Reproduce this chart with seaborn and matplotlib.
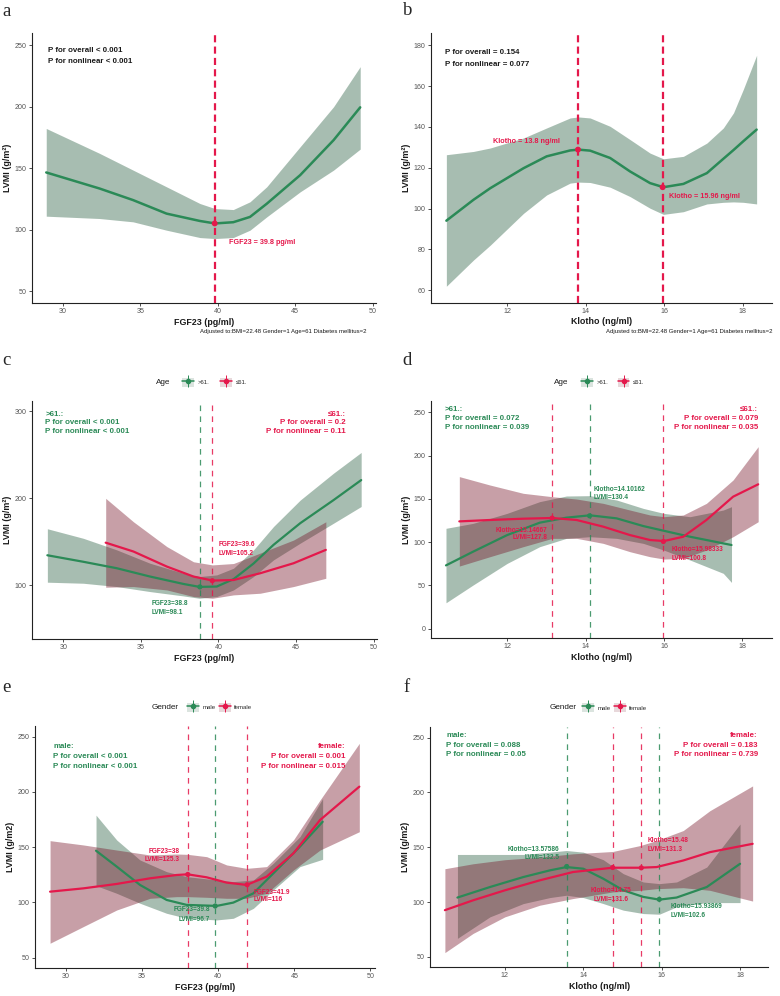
import matplotlib
matplotlib.use("Agg")
import matplotlib.pyplot as plt
from matplotlib.lines import Line2D
from matplotlib.patches import Patch
import seaborn as sns

# ---------------- data ----------------
# a: FGF23, whole sample
a_x = [28.92, 32.37, 34.53, 36.69, 38.85, 39.82, 41.0, 42.08, 43.16, 45.32, 47.48, 49.2]
a_fit = [146.5, 133.4, 124.0, 113.0, 107.0, 105.0, 106.0, 110.3, 121.0, 144.3, 172.8, 199.5]
a_lo = [110.9, 109.0, 106.3, 99.5, 93.5, 92.7, 93.5, 99.5, 110.3, 130.7, 148.4, 165.5]
a_hi = [182.3, 162.0, 148.4, 134.8, 121.2, 117.1, 116.3, 122.6, 134.8, 167.4, 200.0, 232.6]
a_knot_x = [39.8]
a_knot_y = [105.0]

# b: Klotho, whole sample
b_x = [10.44, 11.13, 11.56, 12.41, 13.0, 13.6, 13.81, 14.11, 14.62, 15.13, 15.64, 15.98,
       16.49, 17.09, 17.51, 17.77, 18.02, 18.36]
b_fit = [94.1, 104.3, 110.0, 119.8, 125.6, 128.5, 128.9, 128.4, 124.8, 118.2, 112.5, 110.5,
         112.1, 117.4, 124.4, 128.7, 133.0, 138.7]
b_lo = [62.0, 74.8, 82.1, 97.7, 106.7, 112.5, 113.0, 112.8, 110.5, 105.9, 100.2, 97.2,
        98.5, 102.3, 103.1, 103.3, 103.1, 102.3]
b_hi = [126.4, 128.0, 129.7, 134.6, 139.5, 144.4, 144.9, 144.4, 140.3, 133.8, 127.2, 124.4,
        125.6, 132.1, 139.5, 146.9, 158.4, 175.1]
b_knot_x = [13.8, 15.96]
b_knot_y = [128.9, 110.5]

# c: FGF23 by age
c_old_x = [28.97, 31.29, 33.44, 35.59, 37.74, 38.77, 39.89, 40.97, 42.26, 43.55, 45.27, 47.42, 49.2]
c_old_fit = [134.5, 127.0, 119.6, 110.0, 101.5, 98.1, 98.5, 107.0, 125.0, 146.5, 171.4, 198.0, 221.0]
c_old_lo = [103.5, 102.3, 98.5, 92.7, 87.7, 85.0, 87.0, 94.6, 110.0, 129.2, 148.4, 171.4, 190.6]
c_old_hi = [165.0, 154.0, 140.7, 125.3, 113.8, 110.0, 111.9, 119.6, 140.7, 167.6, 198.0, 229.0, 252.8]
c_young_x = [32.73, 34.52, 36.67, 38.39, 39.61, 40.97, 42.69, 44.84, 46.92]
c_young_fit = [149.0, 138.8, 121.5, 110.0, 105.4, 106.0, 113.8, 125.3, 140.7]
c_young_lo = [97.7, 98.5, 94.6, 87.0, 85.0, 88.9, 90.8, 98.5, 108.0]
c_young_hi = [200.0, 173.0, 144.5, 127.0, 123.4, 125.0, 137.0, 152.0, 173.0]
c_old_knot_x, c_old_knot_y = [38.8], [98.1]
c_young_knot_x, c_young_knot_y = [39.6], [105.2]

# d: Klotho by age
d_old_x = [10.44, 11.13, 12.0, 12.83, 13.51, 14.11, 14.79, 15.47, 15.99, 16.66, 17.51, 17.72]
d_old_fit = [73.2, 89.0, 108.2, 122.5, 128.3, 131.0, 127.5, 118.6, 113.2, 106.3, 98.6, 96.7]
d_old_lo = [30.0, 50.5, 75.5, 94.8, 104.4, 106.3, 104.4, 98.6, 90.9, 79.4, 64.0, 53.5]
d_old_hi = [116.0, 121.7, 133.3, 146.8, 153.3, 153.7, 148.7, 139.0, 133.3, 129.4, 137.1, 141.0]
d_young_x = [10.78, 11.56, 12.41, 13.15, 13.77, 14.45, 15.13, 15.64, 16.0, 16.49, 17.08, 17.76, 18.4]
d_young_fit = [124.0, 125.6, 127.1, 127.9, 125.6, 117.9, 108.2, 102.5, 101.3, 106.3, 125.6, 152.5, 166.8]
d_young_lo = [72.4, 83.2, 94.8, 104.4, 104.4, 98.6, 89.0, 83.2, 80.5, 81.3, 90.9, 106.3, 123.6]
d_young_hi = [175.7, 166.0, 156.4, 152.5, 149.8, 144.8, 137.1, 131.4, 129.4, 131.4, 144.8, 171.8, 210.3]
d_old_knot_x, d_old_knot_y = [14.10162], [130.4]
d_young_knot_x, d_young_knot_y = [13.14667, 15.98333], [127.8, 100.8]

# e: FGF23 by gender
e_male_x = [31.97, 33.33, 34.86, 36.61, 37.93, 39.9, 40.99, 42.31, 43.62, 45.37, 46.86]
e_male_fit = [146.8, 132.4, 115.8, 102.2, 97.7, 96.8, 99.8, 108.2, 126.3, 150.5, 173.0]
e_male_lo = [115.2, 108.2, 99.2, 90.1, 85.6, 84.1, 85.6, 94.6, 111.2, 132.4, 139.0]
e_male_hi = [179.0, 156.5, 138.4, 127.8, 123.3, 120.3, 118.8, 120.3, 135.4, 159.5, 194.0]
e_female_x = [28.95, 31.14, 33.33, 35.52, 37.27, 37.99, 39.24, 40.55, 41.87, 43.18, 44.94, 46.69, 49.27]
e_female_fit = [109.7, 112.7, 116.7, 121.8, 124.8, 125.4, 122.7, 117.9, 115.8, 123.3, 144.4, 174.6, 204.8]
e_female_lo = [63.0, 78.1, 93.1, 103.7, 105.2, 105.2, 104.6, 103.7, 103.7, 108.2, 129.3, 147.4, 164.0]
e_female_hi = [155.9, 152.0, 147.4, 142.9, 143.8, 143.5, 141.4, 133.9, 130.8, 132.4, 156.5, 192.7, 244.0]
e_male_knot_x, e_male_knot_y = [39.8], [96.7]
e_female_knot_x, e_female_knot_y = [38.0, 41.9], [125.3, 116.0]

# f: Klotho by gender
f_male_x = [10.79, 11.62, 12.47, 13.15, 13.57, 14.0, 14.51, 15.02, 15.53, 15.94, 16.38, 17.15, 18.0]
f_male_fit = [104.2, 113.8, 122.9, 129.0, 132.0, 130.5, 121.4, 110.8, 104.8, 102.3, 104.2, 113.8, 135.0]
f_male_lo = [67.0, 86.6, 98.7, 104.2, 106.3, 104.2, 98.7, 92.7, 89.6, 89.0, 95.7, 99.6, 99.6]
f_male_hi = [143.5, 143.5, 143.5, 145.6, 147.1, 145.6, 138.7, 126.0, 118.4, 116.9, 118.4, 132.0, 171.3]
f_female_x = [10.47, 11.19, 12.0, 12.89, 13.74, 14.75, 15.46, 15.87, 16.55, 17.23, 18.32]
f_female_fit = [92.7, 101.7, 110.8, 119.9, 127.5, 131.4, 131.4, 132.0, 138.0, 145.6, 153.2]
f_female_lo = [54.0, 71.5, 86.6, 97.2, 103.3, 109.3, 110.8, 112.3, 113.2, 110.8, 101.0]
f_female_hi = [130.5, 135.0, 138.7, 141.0, 144.1, 146.2, 151.7, 156.2, 165.3, 183.4, 206.0]
f_male_knot_x, f_male_knot_y = [13.57586, 15.93869], [132.5, 102.6]
f_female_knot_x, f_female_knot_y = [14.75, 15.48], [131.6, 131.3]

fgf_ticks = [30, 35, 40, 45, 50]
klotho_ticks = [12, 14, 16, 18]
footnote = "Adjusted to:BMI=22.48 Gender=1 Age=61 Diabetes mellitus=2"

# ---------------- style ----------------
sns.set_theme(style="ticks")
plt.rcParams['font.family'] = ['Liberation Sans', 'DejaVu Sans']

GREEN = '#2b8a57'
RED = '#e4184b'
GREEN_FILL = '#255c3e'
RED_FILL = '#751125'
DARK = '#1a1a1a'
W, H = 780, 996

fig = plt.figure(figsize=(W / 100, H / 100), dpi=100)
fig.patch.set_facecolor('white')


def box(l, t, r, b):
    return [l / W, 1 - b / H, (r - l) / W, (b - t) / H]


def setup(ax, xlabel, ylabel, xlim, ylim, xticks, yticks):
    ax.set_xlim(xlim)
    ax.set_ylim(ylim)
    ax.set_xticks(xticks)
    ax.set_yticks(yticks)
    ax.set_xlabel(xlabel, fontsize=6.4, fontweight='bold', color=DARK, labelpad=1.5)
    ax.set_ylabel(ylabel, fontsize=6.4, fontweight='bold', color=DARK, labelpad=2)
    ax.tick_params(labelsize=5.1, labelcolor='#555555', color='#333333', length=2.2,
                   width=0.6, pad=1.5)
    sns.despine(ax=ax)
    for s in ['left', 'bottom']:
        ax.spines[s].set_linewidth(0.8)
        ax.spines[s].set_color('#222222')
    ax.set_facecolor('white')


def band(ax, x, fit, lo, hi, line, fill, lw=1.6):
    ax.fill_between(x, lo, hi, color=fill, alpha=0.4, lw=0, zorder=1)
    sns.lineplot(x=x, y=fit, ax=ax, color=line, linewidth=lw, sort=False,
                 estimator=None, zorder=3)


def knots(ax, kx, ky, color, lw, dashes, alpha=1.0, s=14):
    for v in kx:
        ax.axvline(v, color=color, lw=lw, dashes=dashes, alpha=alpha, zorder=2)
    sns.scatterplot(x=kx, y=ky, ax=ax, color=color, s=s, edgecolor='none', zorder=5,
                    legend=False)


def label(ax, x, y, text, color, ha='left', size=4.7):
    ax.text(x, y, text, color=color, fontsize=size, fontweight='bold', ha=ha, va='center',
            zorder=6)


def group_legend(ax, title, title_x, names, key_left, y, colspace):
    handles = []
    for line, fill in [(GREEN, GREEN_FILL), (RED, RED_FILL)]:
        handles.append((Patch(facecolor=fill, alpha=0.16, edgecolor='none'),
                        Line2D([0], [0], color=line, lw=1.1, marker='o', ms=3),
                        Line2D([0], [0], color=line, lw=0, marker='|', ms=8.5, mew=0.7)))
    ax.legend(handles, names, loc='center left', bbox_to_anchor=(key_left / W, 1 - y / H),
              bbox_transform=fig.transFigure, ncol=2, frameon=False, fontsize=4.3,
              handlelength=2.0, handleheight=2.0, handletextpad=0.6,
              columnspacing=colspace, borderpad=0, borderaxespad=0)
    fig.text(title_x / W, 1 - y / H, title, fontsize=5.9, color=DARK, ha='center',
             va='center')


def letter(x, y, t):
    fig.text(x / W, 1 - y / H, t, fontsize=13.5, family='Liberation Serif',
             va='baseline', ha='left')


# ---------------- a ----------------
ax = fig.add_axes(box(32, 33, 375.7, 303.3))
band(ax, a_x, a_fit, a_lo, a_hi, GREEN, GREEN_FILL, lw=1.8)
knots(ax, a_knot_x, a_knot_y, RED, 1.6, (3.2, 1.9), s=18)
setup(ax, 'FGF23 (pg/ml)', 'LVMI (g/m²)', (28.0, 50.2), (40, 260), fgf_ticks,
      [50, 100, 150, 200, 250])
label(ax, 29.03, 245.7, 'P for overall < 0.001', DARK, size=5.7)
label(ax, 29.03, 236.4, 'P for nonlinear < 0.001', DARK, size=5.7)
label(ax, 40.7, 89.4, 'FGF23 = 39.8 pg/ml', RED, size=5.2)
fig.text(367 / W, 1 - 332 / H, footnote, fontsize=4.3, color=DARK, ha='right', va='center')
letter(2.5, 15.7, 'a')

# ---------------- b ----------------
ax = fig.add_axes(box(430.7, 33, 772.3, 303))
band(ax, b_x, b_fit, b_lo, b_hi, GREEN, GREEN_FILL, lw=1.8)
knots(ax, b_knot_x, b_knot_y, RED, 1.6, (3.2, 1.9), s=18)
setup(ax, 'Klotho (ng/ml)', 'LVMI (g/m²)', (10.04, 18.76), (53.8, 186), klotho_ticks,
      [60, 80, 100, 120, 140, 160, 180])
label(ax, 10.41, 176.4, 'P for overall = 0.154', DARK, size=5.7)
label(ax, 10.41, 170.7, 'P for nonlinear = 0.077', DARK, size=5.7)
label(ax, 13.34, 132.9, 'Klotho = 13.8 ng/ml', RED, ha='right', size=5.2)
label(ax, 16.13, 105.9, 'Klotho = 15.96 ng/ml', RED, size=5.2)
fig.text(772 / W, 1 - 332 / H, footnote, fontsize=4.3, color=DARK, ha='right', va='center')
letter(403, 15, 'b')

# ---------------- c ----------------
ax = fig.add_axes(box(31.7, 401, 376.7, 639.3))
band(ax, c_old_x, c_old_fit, c_old_lo, c_old_hi, GREEN, GREEN_FILL)
band(ax, c_young_x, c_young_fit, c_young_lo, c_young_hi, RED, RED_FILL)
knots(ax, c_old_knot_x, c_old_knot_y, GREEN, 0.9, (4.5, 4.2), alpha=0.85)
knots(ax, c_young_knot_x, c_young_knot_y, RED, 0.9, (4.5, 4.2), alpha=0.85)
setup(ax, 'FGF23 (pg/ml)', 'LVMI (g/m²)', (27.96, 50.2), (37.8, 312), fgf_ticks,
      [100, 200, 300])
label(ax, 28.84, 296.9, '>61.:', GREEN, size=5.7)
label(ax, 28.84, 287.3, 'P for overall < 0.001', GREEN, size=5.7)
label(ax, 28.84, 277.0, 'P for nonlinear < 0.001', GREEN, size=5.7)
label(ax, 48.21, 296.9, '≤61.:', RED, ha='right', size=5.7)
label(ax, 48.21, 287.3, 'P for overall = 0.2', RED, ha='right', size=5.7)
label(ax, 48.21, 277.0, 'P for nonlinear = 0.11', RED, ha='right', size=5.7)
label(ax, 40.0, 147.2, 'FGF23=39.6', RED)
label(ax, 40.0, 136.9, 'LVMI=105.2', RED)
label(ax, 35.7, 79.3, 'FGF23=38.8', GREEN)
label(ax, 35.7, 68.5, 'LVMI=98.1', GREEN)
group_legend(ax, 'Age', 163, ['>61.', '≤61.'], 181.7, 382.3, 1.9)
letter(2.5, 365, 'c')

# ---------------- d ----------------
ax = fig.add_axes(box(430.7, 401, 772.3, 638.3))
band(ax, d_old_x, d_old_fit, d_old_lo, d_old_hi, GREEN, GREEN_FILL)
band(ax, d_young_x, d_young_fit, d_young_lo, d_young_hi, RED, RED_FILL)
knots(ax, d_old_knot_x, d_old_knot_y, GREEN, 0.9, (4.5, 4.2), alpha=0.85)
knots(ax, d_young_knot_x, d_young_knot_y, RED, 0.9, (4.5, 4.2), alpha=0.85)
setup(ax, 'Klotho (ng/ml)', 'LVMI (g/m²)', (10.05, 18.76), (-11, 263), klotho_ticks,
      [0, 50, 100, 150, 200, 250])
label(ax, 10.41, 252.7, '>61.:', GREEN, size=5.7)
label(ax, 10.41, 242.3, 'P for overall = 0.072', GREEN, size=5.7)
label(ax, 10.41, 231.9, 'P for nonlinear = 0.039', GREEN, size=5.7)
label(ax, 18.4, 252.7, '≤61.:', RED, ha='right', size=5.7)
label(ax, 18.4, 242.3, 'P for overall = 0.079', RED, ha='right', size=5.7)
label(ax, 18.4, 231.9, 'P for nonlinear = 0.035', RED, ha='right', size=5.7)
label(ax, 14.21, 161.0, 'Klotho=14.10162', GREEN)
label(ax, 14.21, 151.4, 'LVMI=130.4', GREEN)
label(ax, 13.02, 114.0, 'Klotho=13.14667', RED, ha='right')
label(ax, 13.02, 105.5, 'LVMI=127.8', RED, ha='right')
label(ax, 16.19, 91.7, 'Klotho=15.98333', RED)
label(ax, 16.19, 81.3, 'LVMI=100.8', RED)
group_legend(ax, 'Age', 561, ['>61.', '≤61.'], 580.7, 382.3, 1.6)
letter(402, 365, 'd')

# ---------------- e ----------------
ax = fig.add_axes(box(35, 725.7, 375, 968.3))
band(ax, e_male_x, e_male_fit, e_male_lo, e_male_hi, GREEN, GREEN_FILL)
band(ax, e_female_x, e_female_fit, e_female_lo, e_female_hi, RED, RED_FILL)
knots(ax, e_male_knot_x, e_male_knot_y, GREEN, 0.9, (4.5, 4.2), alpha=0.85)
knots(ax, e_female_knot_x, e_female_knot_y, RED, 0.9, (4.5, 4.2), alpha=0.85)
setup(ax, 'FGF23 (pg/ml)', 'LVMI (g/m2)', (27.96, 50.3), (40.3, 260), fgf_ticks,
      [50, 100, 150, 200, 250])
label(ax, 29.17, 241.6, 'male:', GREEN, size=5.7)
label(ax, 29.17, 232.5, 'P for overall < 0.001', GREEN, size=5.7)
label(ax, 29.17, 223.5, 'P for nonlinear < 0.001', GREEN, size=5.7)
label(ax, 48.33, 241.6, 'female:', RED, ha='right', size=5.7)
label(ax, 48.33, 232.5, 'P for overall = 0.001', RED, ha='right', size=5.7)
label(ax, 48.33, 223.5, 'P for nonlinear = 0.015', RED, ha='right', size=5.7)
label(ax, 37.49, 145.9, 'FGF23=38', RED, ha='right')
label(ax, 37.49, 139.0, 'LVMI=125.3', RED, ha='right')
label(ax, 39.46, 93.1, 'FGF23=39.8', GREEN, ha='right')
label(ax, 39.46, 84.7, 'LVMI=96.7', GREEN, ha='right')
label(ax, 42.35, 109.1, 'FGF23=41.9', RED)
label(ax, 42.35, 102.2, 'LVMI=116', RED)
group_legend(ax, 'Gender', 165.5, ['male', 'female'], 186.7, 707.3, 0.55)
letter(2.5, 691.7, 'e')

# ---------------- f ----------------
ax = fig.add_axes(box(430, 726.7, 768.3, 967.3))
band(ax, f_male_x, f_male_fit, f_male_lo, f_male_hi, GREEN, GREEN_FILL)
band(ax, f_female_x, f_female_fit, f_female_lo, f_female_hi, RED, RED_FILL)
knots(ax, f_male_knot_x, f_male_knot_y, GREEN, 0.9, (4.5, 4.2), alpha=0.85)
knots(ax, f_female_knot_x, f_female_knot_y, RED, 0.9, (4.5, 4.2), alpha=0.85)
setup(ax, 'Klotho (ng/ml)', 'LVMI (g/m2)', (10.09, 18.72), (40.6, 260), klotho_ticks,
      [50, 100, 150, 200, 250])
label(ax, 10.51, 252.4, 'male:', GREEN, size=5.7)
label(ax, 10.51, 243.3, 'P for overall = 0.088', GREEN, size=5.7)
label(ax, 10.51, 234.3, 'P for nonlinear = 0.05', GREEN, size=5.7)
label(ax, 18.45, 252.4, 'female:', RED, ha='right', size=5.7)
label(ax, 18.45, 243.3, 'P for overall = 0.183', RED, ha='right', size=5.7)
label(ax, 18.45, 234.3, 'P for nonlinear = 0.739', RED, ha='right', size=5.7)
label(ax, 13.39, 148.0, 'Klotho=13.57586', GREEN, ha='right')
label(ax, 13.39, 141.1, 'LVMI=132.5', GREEN, ha='right')
label(ax, 14.7, 110.2, 'Klotho=14.75', RED, ha='center')
label(ax, 14.7, 102.3, 'LVMI=131.6', RED, ha='center')
label(ax, 15.63, 156.2, 'Klotho=15.48', RED)
label(ax, 15.63, 148.0, 'LVMI=131.3', RED)
label(ax, 16.23, 96.3, 'Klotho=15.93869', GREEN)
label(ax, 16.23, 88.1, 'LVMI=102.6', GREEN)
group_legend(ax, 'Gender', 563, ['male', 'female'], 581.7, 707.7, 0.55)
letter(403, 691.7, 'f')

fig.savefig('out.png', dpi=100, facecolor='white')
